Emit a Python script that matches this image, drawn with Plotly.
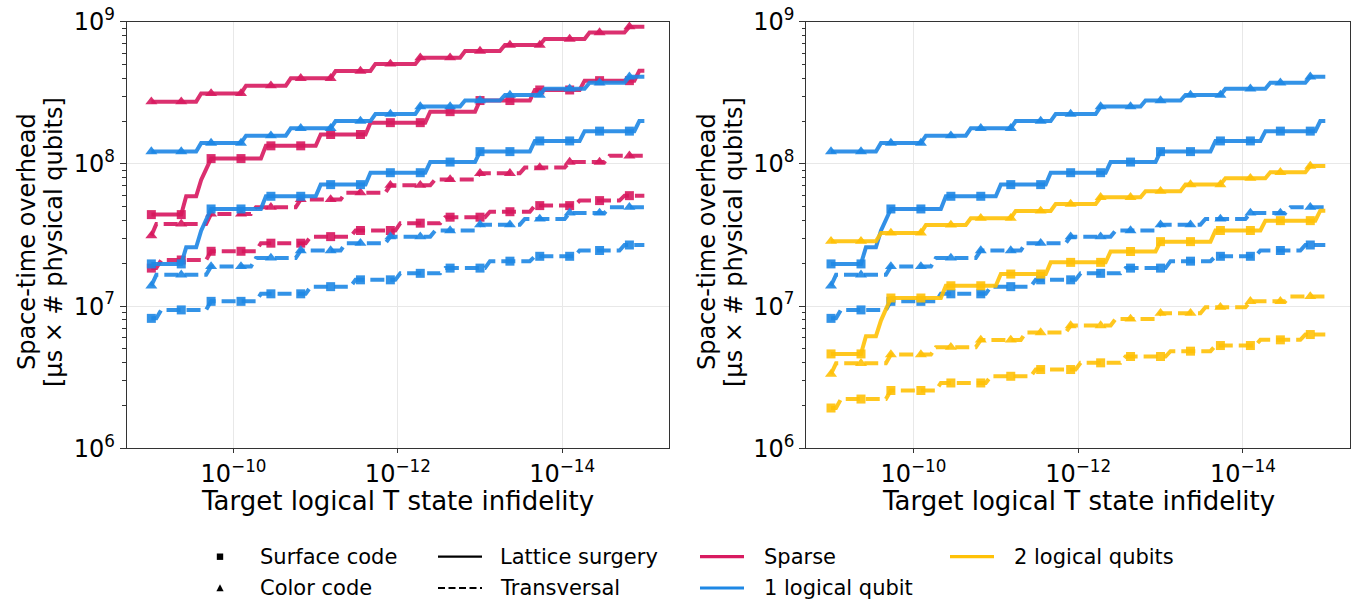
import plotly.graph_objects as go

# ---- sweep of target logical T-state infidelity (log10 units) ----
marker_exp = [-9.0, -9.364, -9.727, -10.091, -10.455, -10.818, -11.182, -11.545,
              -11.909, -12.273, -12.636, -13.0, -13.364, -13.727, -14.091, -14.455, -14.818]
sample_step = 0.0606      # spacing of the infidelity sweep, in decades
sweep_end = -15.0

# log10 infidelity at which each overhead plateau begins
edges_color_ls = [-9.0, -9.606, -10.152, -10.697, -11.242, -11.727, -12.273,
                  -12.818, -13.303, -13.788, -14.333, -14.818]
edges_surface_ls = [-9.0, -9.424, -9.606, -9.667, -9.727, -10.394, -11.061,
                    -11.667, -12.394, -13.0, -13.667, -14.273, -14.939]
edges_color_tv = [-9.0, -9.061, -9.727, -10.273, -10.818, -11.364, -11.909,
                  -12.455, -13.0, -13.545, -14.091, -14.576]
edges_surface_tv = [-9.0, -9.121, -9.727, -10.333, -10.939, -11.485, -12.030,
                    -12.576, -13.121, -13.667, -14.212, -14.758]

# space-time overhead on each plateau [us x physical qubits]
sparse_color_ls = [2.74e8, 3.13e8, 3.55e8, 4.00e8, 4.50e8, 5.05e8, 5.58e8, 6.22e8,
                   6.85e8, 7.55e8, 8.38e8, 9.23e8]
sparse_surface_ls = [4.40e7, 5.92e7, 7.71e7, 9.06e7, 1.09e8, 1.34e8, 1.61e8, 1.95e8,
                     2.33e8, 2.79e8, 3.31e8, 3.85e8, 4.52e8]
sparse_color_tv = [3.13e7, 3.78e7, 4.45e7, 4.96e7, 5.62e7, 6.28e7, 7.08e7, 7.78e7,
                   8.59e7, 9.42e7, 1.03e8, 1.14e8]
sparse_surface_tv = [1.85e7, 2.11e7, 2.43e7, 2.77e7, 3.08e7, 3.40e7, 3.83e7, 4.22e7,
                     4.61e7, 5.09e7, 5.52e7, 5.98e7]

one_color_ls = [1.22e8, 1.40e8, 1.58e8, 1.78e8, 2.00e8, 2.24e8, 2.53e8, 2.79e8,
                3.05e8, 3.37e8, 3.72e8, 4.10e8]
one_surface_ls = [1.98e7, 2.59e7, 3.39e7, 4.01e7, 4.82e7, 5.92e7, 7.15e7, 8.67e7,
                  1.03e8, 1.22e8, 1.45e8, 1.70e8, 2.00e8]
one_color_tv = [1.39e7, 1.66e7, 1.90e7, 2.18e7, 2.46e7, 2.77e7, 3.08e7, 3.40e7,
                3.74e7, 4.10e7, 4.52e7, 4.96e7]
one_surface_tv = [8.20e6, 9.40e6, 1.08e7, 1.22e7, 1.37e7, 1.53e7, 1.70e7, 1.85e7,
                  2.07e7, 2.24e7, 2.46e7, 2.69e7]

two_color_ls = [2.86e7, 3.27e7, 3.72e7, 4.15e7, 4.67e7, 5.22e7, 5.82e7, 6.43e7,
                7.16e7, 7.93e7, 8.73e7, 9.66e7]
two_surface_ls = [4.61e6, 6.14e6, 7.91e6, 9.55e6, 1.14e7, 1.39e7, 1.68e7, 2.03e7,
                  2.42e7, 2.84e7, 3.40e7, 3.99e7, 4.69e7]
two_color_tv = [3.33e6, 3.96e6, 4.56e6, 5.14e6, 5.78e6, 6.52e6, 7.30e6, 8.13e6,
                8.91e6, 9.82e6, 1.08e7, 1.17e7]
two_surface_tv = [1.92e6, 2.22e6, 2.55e6, 2.88e6, 3.21e6, 3.58e6, 3.99e6, 4.42e6,
                  4.82e6, 5.28e6, 5.79e6, 6.31e6]

x_tick_exp = [-10, -12, -14]
y_tick_exp = [6, 7, 8, 9]

# ---- styling ----
W, H = 1361, 599
CRIMSON, BLUE, AMBER = "#D81B60", "#1E88E5", "#FFC107"
DASH = "14px,6px"
FONT = "DejaVu Sans"
MARKER_SIZE = {"triangle-up": 10.5, "square": 9}


def step_path(edges, levels):
    """Vertices of a sampled step curve: flat plateaus joined by one-sample ramps."""
    xs, ys = [], []
    for i, (e, v) in enumerate(zip(edges, levels)):
        xs.append(10 ** e)
        ys.append(v)
        stop = edges[i + 1] + sample_step if i + 1 < len(edges) else sweep_end
        if stop < e - 1e-6:
            xs.append(10 ** stop)
            ys.append(v)
    return xs, ys


def level_at(edges, levels, e):
    idx = max(i for i, ed in enumerate(edges) if ed >= e - 1e-6)
    return levels[idx]


fig = go.Figure()


def add_series(levels, edges, color, dash, symbol, xa, ya):
    xs, ys = step_path(edges, levels)
    fig.add_trace(go.Scatter(
        x=xs, y=ys, mode="lines", xaxis=xa, yaxis=ya, showlegend=False,
        line=dict(color=color, width=4, dash=dash), opacity=0.9,
        hoverinfo="skip"))
    mx = [10 ** e for e in marker_exp]
    my = [level_at(edges, levels, e) for e in marker_exp]
    fig.add_trace(go.Scatter(
        x=mx, y=my, mode="markers", xaxis=xa, yaxis=ya, showlegend=False,
        marker=dict(color=color, symbol=symbol, size=MARKER_SIZE[symbol],
                    line=dict(width=0)),
        opacity=0.9))


# left panel: sparse vs one logical qubit
left = [
    (sparse_color_ls, edges_color_ls, CRIMSON, "solid", "triangle-up"),
    (sparse_surface_ls, edges_surface_ls, CRIMSON, "solid", "square"),
    (sparse_color_tv, edges_color_tv, CRIMSON, DASH, "triangle-up"),
    (sparse_surface_tv, edges_surface_tv, CRIMSON, DASH, "square"),
    (one_color_ls, edges_color_ls, BLUE, "solid", "triangle-up"),
    (one_surface_ls, edges_surface_ls, BLUE, "solid", "square"),
    (one_color_tv, edges_color_tv, BLUE, DASH, "triangle-up"),
    (one_surface_tv, edges_surface_tv, BLUE, DASH, "square"),
]
# right panel: one vs two logical qubits
right = [
    (one_color_ls, edges_color_ls, BLUE, "solid", "triangle-up"),
    (one_surface_ls, edges_surface_ls, BLUE, "solid", "square"),
    (one_color_tv, edges_color_tv, BLUE, DASH, "triangle-up"),
    (one_surface_tv, edges_surface_tv, BLUE, DASH, "square"),
    (two_color_ls, edges_color_ls, AMBER, "solid", "triangle-up"),
    (two_surface_ls, edges_surface_ls, AMBER, "solid", "square"),
    (two_color_tv, edges_color_tv, AMBER, DASH, "triangle-up"),
    (two_surface_tv, edges_surface_tv, AMBER, DASH, "square"),
]
for s in left:
    add_series(*s, "x", "y")
for s in right:
    add_series(*s, "x2", "y2")

# ---- axes ----
px_x = lambda p: p / W
px_y = lambda p: 1 - p / H

dom_y = [px_y(448.3), px_y(21.7)]
axis_line = dict(showline=True, mirror=True, linecolor="#333", linewidth=1,
                 tickcolor="#333", tickwidth=1, automargin=False,
                 showgrid=True, gridcolor="#e8e8e8", gridwidth=1, zeroline=False,
                 tickfont=dict(family=FONT, size=24, color="black"))

xaxis_common = dict(type="log", range=[-8.7, -15.3],
                    tickvals=[10 ** e for e in x_tick_exp],
                    ticktext=["10<sup>\u2212%d</sup>" % -e for e in x_tick_exp],
                    ticks="outside", ticklen=4,
                    **axis_line)
minor_y = [m * 10 ** d for d in y_tick_exp[:-1] for m in range(2, 10)]
yaxis_common = dict(type="log", range=[6, 9],
                    tickvals=[10 ** e for e in y_tick_exp],
                    ticktext=["10<sup>%d</sup>" % e for e in y_tick_exp],
                    ticks="outside", ticklen=6,
                    minor=dict(tickvals=minor_y, ticks="outside", ticklen=3.5,
                               tickcolor="#333", tickwidth=1, showgrid=False),
                    **axis_line)

fig.update_layout(
    width=W, height=H, margin=dict(l=0, r=0, t=0, b=0, pad=0, autoexpand=False),
    paper_bgcolor="white", plot_bgcolor="white",
    font=dict(family=FONT, color="black", size=20),
    xaxis=dict(domain=[px_x(126.7), px_x(669)], anchor="y", **xaxis_common),
    yaxis=dict(domain=dom_y, anchor="x", **yaxis_common),
    xaxis2=dict(domain=[px_x(806.3), px_x(1350)], anchor="y2", **xaxis_common),
    yaxis2=dict(domain=dom_y, anchor="x2", **yaxis_common),
    showlegend=False,
)

# ---- axis titles ----
xtitle_font = dict(family=FONT, size=26, color="black")
ytitle_font = dict(family=FONT, size=24, color="black")
annots = []
shapes = []
for cx in [(126.7 + 669) / 2, (806.3 + 1350) / 2]:
    annots.append(dict(text="Target logical T state infidelity", x=px_x(cx), y=px_y(501),
                       xref="paper", yref="paper", xanchor="center", yanchor="middle",
                       showarrow=False, font=xtitle_font))
for x1, x2 in [(27, 54), (707, 734)]:
    annots.append(dict(text="Space-time overhead", x=px_x(x1), y=px_y(242),
                       xref="paper", yref="paper", xanchor="center", yanchor="middle",
                       textangle=-90, showarrow=False, font=ytitle_font))
    annots.append(dict(text="[\u03bcs \u00d7 # physical qubits]", x=px_x(x2), y=px_y(242),
                       xref="paper", yref="paper", xanchor="center", yanchor="middle",
                       textangle=-90, showarrow=False, font=ytitle_font))

# ---- legend (four columns, two rows) ----
legend_font = dict(family=FONT, size=21, color="black")
row_y = [556.7, 588.0]
legend_entries = [
    # (handle start px, text px, row, label, handle kind, colour, dash)
    (210, 258, 0, "Surface code", "square", "black", None),
    (210, 258, 1, "Color code", "triangle", "black", None),
    (438, 498, 0, "Lattice surgery", "line", "black", "solid"),
    (438, 498, 1, "Transversal", "line", "black", "7px,3.5px"),
    (700, 762, 0, "Sparse", "line", CRIMSON, "solid"),
    (700, 762, 1, "1 logical qubit", "line", BLUE, "solid"),
    (950, 1012, 0, "2 logical qubits", "line", AMBER, "solid"),
]
for hx, tx, r, label, kind, col, dash in legend_entries:
    yc = row_y[r]
    annots.append(dict(text=label, x=px_x(tx), y=px_y(yc), xref="paper", yref="paper",
                       xanchor="left", yanchor="middle", showarrow=False, font=legend_font))
    if kind == "line":
        shapes.append(dict(type="line", xref="paper", yref="paper",
                           x0=px_x(hx), x1=px_x(hx + 44), y0=px_y(yc), y1=px_y(yc),
                           line=dict(color=col, width=2.2 if col == "black" else 3.2, dash=dash)))
    elif kind == "square":
        cx = hx + 10
        shapes.append(dict(type="rect", xref="paper", yref="paper",
                           x0=px_x(cx - 3.2), x1=px_x(cx + 3.2),
                           y0=px_y(yc + 3.2), y1=px_y(yc - 3.2),
                           fillcolor=col, line=dict(width=0)))
    else:
        cx = hx + 10
        path = "M %.5f,%.5f L %.5f,%.5f L %.5f,%.5f Z" % (
            px_x(cx - 3.6), px_y(yc + 3.2), px_x(cx + 3.6), px_y(yc + 3.2),
            px_x(cx), px_y(yc - 3.8))
        shapes.append(dict(type="path", xref="paper", yref="paper", path=path,
                           fillcolor=col, line=dict(width=0)))

fig.update_layout(annotations=annots, shapes=shapes)

fig.write_html("out.html")
